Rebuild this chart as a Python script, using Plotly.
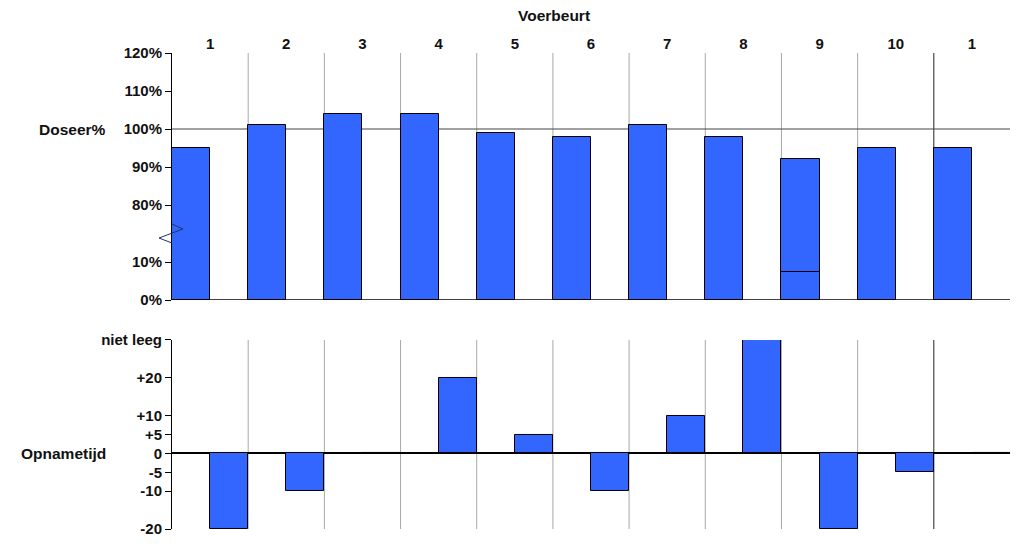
import plotly.graph_objects as go

# ---------------- data ----------------
voerbeurt_labels = ["1", "2", "3", "4", "5", "6", "7", "8", "9", "10", "1"]
doseer_pct = [95, 101, 104, 104, 99, 98, 101, 98, 92, 95, 95]
doseer_onderdeel = [None, None, None, None, None, None, None, None, 7.5, None, None]
NIET_LEEG = 30
opnametijd = [-20, -10, 0, 20, 5, -10, 10, NIET_LEEG, -20, -5, 0]

doseer_ticks = [0, 10, 80, 90, 100, 110, 120]
doseer_ticktext = ["0%", "10%", "80%", "90%", "100%", "110%", "120%"]
opname_ticks = [-20, -10, -5, 0, 5, 10, 20, NIET_LEEG]
opname_ticktext = ["-20", "-10", "-5", "0", "+5", "+10", "+20", "niet leeg"]

BAR_COLOR = "#3366FF"
FONT = "Liberation Sans"


def brk(p):
    """broken axis: 0-10% linear, gap, 80%+ linear"""
    if p is None:
        return None
    if p <= 10:
        return p / 10.0
    return 2.5 + (p - 80) / 10.0


n = len(voerbeurt_labels)
x_top = [i + 0.25 for i in range(n)]
x_bot = [i + 0.75 for i in range(n)]

fig = go.Figure()
fig.add_trace(go.Bar(
    x=x_top, y=[brk(v) for v in doseer_pct], width=0.5,
    marker=dict(color=BAR_COLOR, line=dict(color="black", width=1)),
    xaxis="x", yaxis="y", showlegend=False))
fig.add_trace(go.Bar(
    x=x_top, y=[brk(v) for v in doseer_onderdeel], width=0.5,
    marker=dict(color=BAR_COLOR, line=dict(color="black", width=1)),
    xaxis="x", yaxis="y", showlegend=False))
fig.add_trace(go.Bar(
    x=x_bot, y=opnametijd, width=0.5,
    marker=dict(color=BAR_COLOR, line=dict(color="black", width=1)),
    xaxis="x2", yaxis="y2", showlegend=False))

shapes = []
# vertical grid lines at column boundaries
for i in range(1, n):
    col = "#222222" if i == n - 1 else "#A8A8A8"
    for xr, yr in (("x", "y domain"), ("x2", "y2 domain")):
        shapes.append(dict(type="line", xref=xr, yref=yr, x0=i, x1=i, y0=0, y1=1,
                           line=dict(color=col, width=1), layer="below"))
# 100% reference line and 0% base line
shapes.append(dict(type="line", xref="x domain", yref="y", x0=0, x1=1,
                   y0=brk(100), y1=brk(100), line=dict(color="#444444", width=1.2),
                   layer="below"))
shapes.append(dict(type="line", xref="x domain", yref="y", x0=0, x1=1,
                   y0=0, y1=0, line=dict(color="black", width=1.5)))
# axis-break glyph (decoration)
shapes.append(dict(type="path", xref="paper", yref="paper",
                   path="M 0 0.6408 L 0.01313 0.6303 L -0.01551 0.6113 L 0 0.6008",
                   line=dict(color="#223366", width=1)))

titlefont = dict(family=FONT, size=15.5, color="#111111", weight="bold")
annotations = [
    dict(text="Voerbeurt", xref="paper", yref="paper", x=0.4555, y=1.0798,
         showarrow=False, xanchor="center", yanchor="middle", font=titlefont),
    dict(text="Doseer%", xref="paper", yref="y", x=-0.0764, y=brk(100),
         showarrow=False, xanchor="right", yanchor="middle", font=titlefont),
    dict(text="Opnametijd", xref="paper", yref="y2", x=-0.0764, y=0,
         showarrow=False, xanchor="right", yanchor="middle", font=titlefont),
]

tickfont = dict(family=FONT, size=15, color="#111111", weight="bold")

# page body has an 8px margin: figure sized so the plot lands where the reference has it
fig.update_layout(
    width=1007, height=538,
    margin=dict(l=164, r=5, t=45, b=17),
    paper_bgcolor="white", plot_bgcolor="white",
    barmode="overlay", bargap=0, showlegend=False,
    shapes=shapes, annotations=annotations,
    font=dict(family=FONT),
    xaxis=dict(domain=[0, 1], anchor="y", range=[0, n], side="top",
               tickvals=[i + 0.5 for i in range(n)], ticktext=voerbeurt_labels,
               showgrid=False, zeroline=False, showline=False, ticks="",
               tickfont=tickfont),
    xaxis2=dict(domain=[0, 1], anchor="y2", range=[0, n], showgrid=False,
                zeroline=False, showline=False, showticklabels=False, ticks=""),
    yaxis=dict(domain=[0.4811, 1], anchor="x", range=[0, brk(120)],
               tickvals=[brk(t) for t in doseer_ticks], ticktext=doseer_ticktext,
               showgrid=False, zeroline=False, showline=True, linecolor="black",
               linewidth=1, ticks="outside", ticklen=6, tickcolor="black",
               tickfont=tickfont),
    yaxis2=dict(domain=[0, 0.3971], anchor="x2", range=[-20, NIET_LEEG],
                tickvals=opname_ticks, ticktext=opname_ticktext,
                showgrid=False, zeroline=True, zerolinecolor="black", zerolinewidth=1.5,
                showline=True, linecolor="black", linewidth=1,
                ticks="outside", ticklen=6, tickcolor="black", tickfont=tickfont),
)

fig.write_html("out.html")
